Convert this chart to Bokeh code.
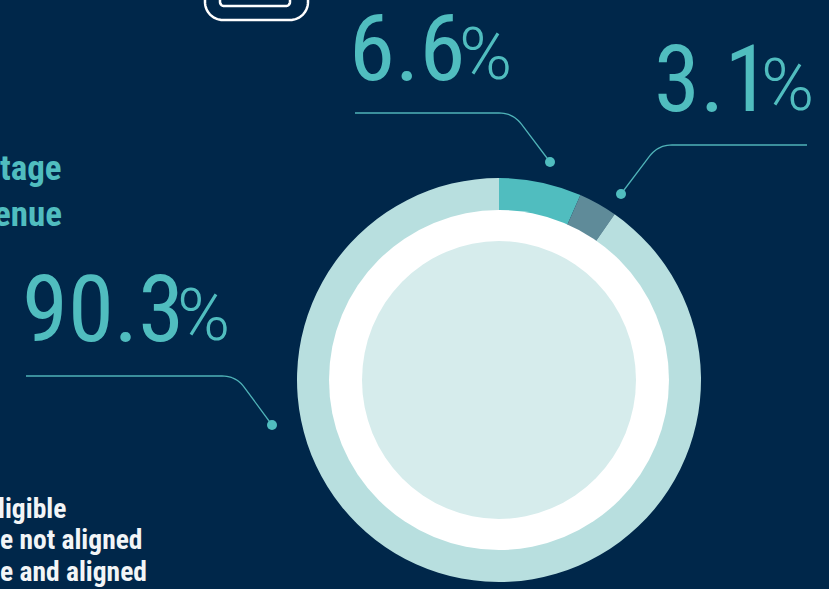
from math import pi

import numpy as np
from bokeh.core.properties import value
from bokeh.embed import file_html
from bokeh.models import Range1d
from bokeh.plotting import figure
from bokeh.resources import INLINE

# Revenue shares, in clockwise order from twelve o'clock
share_names = ["eligible and aligned", "eligible not aligned", "not eligible"]
share_values = [6.6, 3.1, 90.3]
share_colors = ["#50bdbf", "#5f8b99", "#b8dfdf"]

big_numbers = ["90.3", "6.6", "3.1"]
percent_sign = "%"
heading_lines = ["tage", "enue"]
legend_lines = ["ligible", "e not aligned", "e and aligned"]

WIDTH, HEIGHT = 829, 589
NAVY = "#00274a"
TEAL = "#50bdbf"
CENTER = (499, 380)
BASELINE_SHIFT = -0.36  # em, lifts text onto its intended baseline


def Y(py):
    """Convert a top-down page position to the bottom-up y axis."""
    return HEIGHT - py


def elbow(start, corner, end, radius=14, n=12):
    """Polyline from start to end with a rounded bend at corner."""
    s, c, e = (np.array(v, dtype=float) for v in (start, corner, end))
    a = c + (s - c) / np.linalg.norm(s - c) * radius
    b = c + (e - c) / np.linalg.norm(e - c) * radius
    t = np.linspace(0, 1, n)[:, None]
    bend = (1 - t) ** 2 * a + 2 * t * (1 - t) * c + t**2 * b
    pts = np.vstack([s, bend, e])
    return pts[:, 0], HEIGHT - pts[:, 1]


def open_tray(x0, x1, y_top, y_bottom, r, n=16):
    """Rounded U shape, open at its top edge."""
    t = np.linspace(0, pi / 2, n)
    xs = [x0, *(x0 + r - r * np.cos(t)), *(x1 - r + r * np.sin(t)), x1]
    ys = [y_top, *(y_bottom - r + r * np.sin(t)), *(y_bottom - r + r * np.cos(t)), y_top]
    return xs, [HEIGHT - v for v in ys]


def label(x, py, text, font, size, color, style="normal"):
    p.text(
        x=x,
        y=[Y(v) for v in py],
        text=text,
        text_font=value(font),
        text_font_style=style,
        text_font_size=f"{size}px",
        text_color=color,
        text_align="left",
        text_baseline="alphabetic",
        y_offset=BASELINE_SHIFT * size,
    )


# One extra pixel each way, pulled back by the negative margins below
p = figure(
    width=WIDTH + 1,
    height=HEIGHT + 1,
    x_range=Range1d(-0.5, WIDTH + 0.5),
    y_range=Range1d(-0.5, HEIGHT + 0.5),
    output_backend="svg",
    toolbar_location=None,
    min_border=0,
    background_fill_color=NAVY,
    border_fill_color=NAVY,
    outline_line_color=None,
)
p.styles = {"margin-left": "-1px", "margin-top": "-1px"}
p.axis.visible = False
p.grid.visible = False

# Ring: each wedge spans its share of the full turn, running clockwise
fractions = np.array(share_values) / sum(share_values)
ends = np.cumsum(fractions)
starts = ends - fractions
p.annular_wedge(
    x=CENTER[0],
    y=Y(CENTER[1]),
    inner_radius=165,
    outer_radius=202,
    start_angle=pi / 2 - ends * 2 * pi,
    end_angle=pi / 2 - starts * 2 * pi,
    fill_color=share_colors,
    line_color=None,
)
p.circle(x=CENTER[0], y=Y(CENTER[1]), radius=170, fill_color="#ffffff", line_color=None)
p.ellipse(x=CENTER[0], y=Y(CENTER[1]), width=274, height=278, fill_color="#d6ecec", line_color=None)

# Leader lines with their end dots
leaders = [
    ((26, 376), (236, 376), (272, 425)),
    ((355, 113), (513, 113), (550, 162)),
    ((807, 145), (658, 145), (621, 194)),
]
for start, corner, end in leaders:
    xs, ys = elbow(start, corner, end)
    p.line(xs, ys, line_color="#4fb3b8", line_width=1.3)
    p.circle(x=[end[0]], y=[Y(end[1])], radius=5, fill_color=TEAL, line_color=None)

# Large figures and their smaller percent signs
label([22, 349, 654], [341, 80, 111], big_numbers, "Roboto Condensed", 93, TEAL)
label([177, 459, 761], [341, 80, 111], [percent_sign] * 3, "Roboto Light", 72, TEAL)

# Heading and key text running in from the left edge
label([0, -6], [181, 227], heading_lines, "Roboto Condensed", 35, TEAL, "bold")
label([-2, 0, 0], [518, 549, 581], legend_lines, "Roboto Condensed", 27.5, "#f2f5f7", "bold")

# Outline of the icon cut off by the top edge
xs, ys = open_tray(205, 308, -2, 20, 18)
p.line(xs, ys, line_color="#ffffff", line_width=2.5)
xs, ys = open_tray(220, 290, -2, 6, 4)
p.line(xs, ys, line_color="#ffffff", line_width=2.5)

open("out.html", "w").write(file_html(p, INLINE))
